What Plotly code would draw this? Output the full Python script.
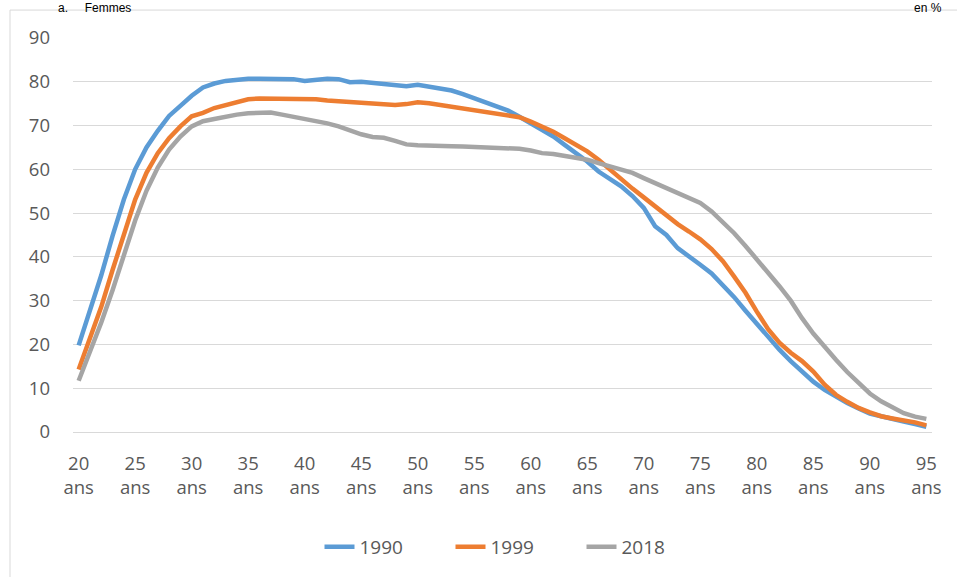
import plotly.graph_objects as go

ages = list(range(20, 96))
tick_vals = list(range(20, 96, 5))
tick_text = [f"{a}<br>ans" for a in tick_vals]
y_ticks = list(range(0, 91, 10))

series_names = ["1990", "1999", "2018"]
series_colors = ["#5B9BD5", "#ED7D31", "#A5A5A5"]

v1990 = [19.8, 27.4, 35.8, 44.8, 53.1, 60.0, 65.0, 68.8, 72.2, 74.5,
         76.8, 78.7, 79.6, 80.2, 80.5, 80.7, 80.7, 80.7, 80.7, 80.6,
         80.2, 80.5, 80.7, 80.6, 79.9, 80.0, 79.8, 79.5, 79.3, 79.0,
         79.3, 78.9, 78.6, 78.0, 77.2, 76.3, 75.4, 74.5, 73.4, 72.0,
         70.5, 69.0, 67.5, 65.6, 63.7, 61.8, 59.5, 57.7, 56.1, 53.9,
         51.2, 47.0, 45.0, 42.0, 40.2, 38.2, 36.2, 33.6, 30.8, 27.7,
         24.6, 21.5, 18.8, 16.2, 13.8, 11.5, 9.6, 8.1, 6.6, 5.4,
         4.2, 3.6, 2.9, 2.4, 1.8, 1.2]

v1999 = [14.3, 21.1, 28.6, 37.0, 45.3, 53.1, 59.2, 63.7, 67.1, 69.8,
         72.1, 72.9, 74.0, 74.7, 75.5, 76.0, 76.2, 76.2, 76.2, 76.2,
         76.2, 76.0, 75.7, 75.5, 75.3, 75.1, 75.0, 74.7, 74.7, 74.9,
         75.3, 75.1, 74.7, 74.4, 74.0, 73.6, 73.2, 72.7, 72.3, 71.9,
         70.9, 69.8, 68.6, 67.1, 65.6, 64.1, 62.2, 59.9, 57.7, 55.6,
         53.6, 51.5, 49.5, 47.5, 45.8, 44.0, 41.8, 39.0, 35.5, 31.8,
         27.5, 23.5, 20.4, 18.1, 16.2, 13.8, 10.8, 8.5, 6.9, 5.5,
         4.5, 3.6, 3.1, 2.7, 2.2, 1.5]

v2018 = [11.7, 18.2, 25.0, 32.4, 40.7, 48.3, 55.1, 60.4, 64.5, 67.5,
         69.8, 71.0, 71.5, 72.1, 72.5, 72.8, 72.9, 73.0, 72.5, 72.0,
         71.7, 71.2, 70.5, 69.8, 68.9, 68.0, 67.4, 67.2, 66.5, 65.7,
         65.5, 65.5, 65.5, 65.3, 65.2, 65.1, 65.0, 64.9, 64.8, 64.7,
         64.3, 63.7, 63.5, 63.0, 62.6, 62.2, 61.4, 60.7, 59.9, 59.2,
         58.0, 56.9, 55.8, 54.5, 53.5, 52.3, 50.4, 48.0, 45.4, 42.5,
         39.5, 36.5, 33.3, 30.0, 26.0, 22.5, 19.3, 16.5, 13.7, 11.2,
         8.8, 7.0, 5.5, 4.3, 3.5, 3.0]

values = [v1990, v1999, v2018]

W, H = 957, 577
L, R, T, B = 73, 957 - 932, 38, 577 - 433
pw, ph = W - L - R, H - T - B


def px_x(sx):
    return (sx - L) / pw


def px_y(sy):
    return (H - B - sy) / ph


fig = go.Figure()
for name, col, vals in zip(series_names, series_colors, values):
    fig.add_trace(go.Scatter(
        x=ages, y=vals, name=name, mode="lines",
        line=dict(color=col, width=4.5, shape="linear"),
        hoverinfo="x+y+name",
    ))

FAM = "Open Sans, Noto Sans, DejaVu Sans, sans-serif"
tick_font = dict(family=FAM, size=18.5, color="#595959")
legend_font = dict(family=FAM, size=19, color="#595959")

fig.update_layout(
    width=W, height=H,
    margin=dict(l=L, r=R, t=T, b=B),
    paper_bgcolor="white", plot_bgcolor="white",
    showlegend=True,
    legend=dict(
        orientation="h", x=px_x(516), xanchor="center",
        y=px_y(547), yanchor="middle",
        font=legend_font, entrywidth=86, traceorder="normal",
        bgcolor="rgba(0,0,0,0)",
    ),
    xaxis=dict(
        range=[19.5, 95.5], tickmode="array", tickvals=tick_vals, ticktext=tick_text,
        showgrid=False, zeroline=False, showline=False, ticks="",
        tickfont=tick_font, ticklabelstandoff=18,
    ),
    yaxis=dict(
        range=[0, 90], tickmode="array", tickvals=y_ticks,
        showgrid=True, gridcolor="#D9D9D9", gridwidth=1,
        zeroline=True, zerolinecolor="#D9D9D9", zerolinewidth=1,
        showline=False, ticks="", tickfont=tick_font, ticklabelstandoff=22,
    ),
    shapes=[dict(
        type="rect", xref="paper", yref="paper",
        x0=px_x(10), x1=px_x(990), y0=px_y(620), y1=px_y(10),
        line=dict(color="#D9D9D9", width=1), fillcolor="rgba(0,0,0,0)", layer="below",
    )],
    annotations=[
        dict(text="a.     Femmes", xref="paper", yref="paper", x=px_x(56), y=px_y(-1),
             xanchor="left", yanchor="top", showarrow=False,
             font=dict(family="Liberation Sans, Arial, sans-serif", size=12, color="black")),
        dict(text="en %", xref="paper", yref="paper", x=px_x(912), y=px_y(-1),
             xanchor="left", yanchor="top", showarrow=False,
             font=dict(family="Liberation Sans, Arial, sans-serif", size=12, color="black")),
    ],
)

fig.write_html(
    "out.html",
    config={"displayModeBar": False},
    post_script="document.body.style.margin='0';document.body.style.overflow='hidden';",
)
